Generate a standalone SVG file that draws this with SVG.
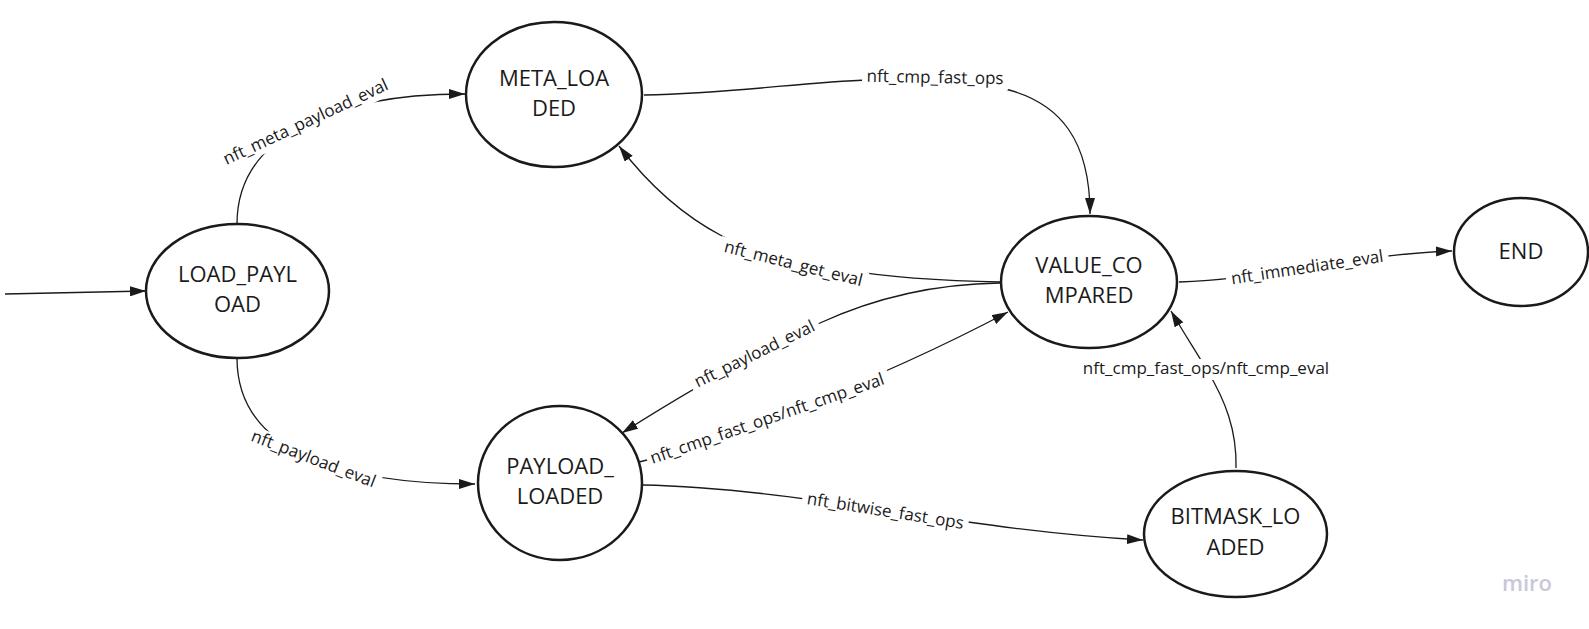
<svg xmlns="http://www.w3.org/2000/svg" width="1589" height="629" viewBox="0 0 1589 629">
<style>
.node ellipse{fill:#fff;stroke:#1a1a1a;stroke-width:2.5}
.node text{font-family:"Open Sans","Liberation Sans",sans-serif;font-size:22px;fill:#1a1a1a;text-anchor:middle}
.edge{fill:none;stroke:#1a1a1a;stroke-width:1.3;marker-end:url(#arr)}
.lbl text{font-family:"Open Sans","Liberation Sans",sans-serif;font-size:17px;fill:#1a1a1a;text-anchor:middle}
.lbl rect{fill:#fff}
.wm{font-family:"Open Sans","Liberation Sans",sans-serif;font-size:22px;font-weight:600;fill:#c8c8d8;text-anchor:middle}
</style>
<defs>
<marker id="arr" viewBox="0 0 16 10" refX="16" refY="5" markerWidth="16" markerHeight="10" markerUnits="userSpaceOnUse" orient="auto">
<path d="M0,0 L16,5 L0,10 z" fill="#1a1a1a"/>
</marker>
</defs>
<rect width="1589" height="629" fill="#fff"/>
<g id="connectors">
<path class="edge" d="M5,294 L146,291"/>
<path class="edge" d="M237,224 C237,140 325,94 465,94"/>
<path class="edge" d="M237,358 C237,460 360,484 475,484"/>
<path class="edge" d="M644,95 C740,93 800,82 870,80 C920,79 980,82 1009,90 C1060,104 1090,140 1090,214"/>
<path class="edge" d="M1001,282 C880,280 780,265 722,236 C680,214 645,180 619,146"/>
<path class="edge" d="M1000,283 C930,284 870,300 820,323 C760,350 690,390 622,433"/>
<path class="edge" d="M639,462 C700,448 870,385 1008,312"/>
<path class="edge" d="M642,485 C800,488 960,530 1143,540"/>
<path class="edge" d="M1236,468 C1237,430 1225,400 1207,370 C1195,350 1182,330 1171,311"/>
<path class="edge" d="M1179,282 C1260,280 1360,254 1452,251"/>
</g>
<g id="labels">
<g class="lbl" id="lbl-meta-payload" transform="translate(308,127) rotate(-25)"><rect x="-95" y="-15" width="190" height="21"/><text x="0" y="0">nft_meta_payload_eval</text></g>
<g class="lbl" id="lbl-payload-1" transform="translate(311.5,464) rotate(21)"><rect x="-71" y="-15" width="142" height="21"/><text x="0" y="0">nft_payload_eval</text></g>
<g class="lbl" id="lbl-cmp-fast" transform="translate(935,83) rotate(1)"><rect x="-73" y="-15" width="146" height="21"/><text x="0" y="0">nft_cmp_fast_ops</text></g>
<g class="lbl" id="lbl-meta-get" transform="translate(792,269) rotate(14)"><rect x="-76" y="-15" width="152" height="21"/><text x="0" y="0">nft_meta_get_eval</text></g>
<g class="lbl" id="lbl-payload-2" transform="translate(757,359) rotate(-26)"><rect x="-71" y="-15" width="142" height="21"/><text x="0" y="0">nft_payload_eval</text></g>
<g class="lbl" id="lbl-cmp-1" transform="translate(769,424) rotate(-19)"><rect x="-127" y="-15" width="256" height="21"/><text x="0" y="0">nft_cmp_fast_ops/nft_cmp_eval</text></g>
<g class="lbl" id="lbl-bitwise" transform="translate(884.5,516.5) rotate(9)"><rect x="-84" y="-15" width="168" height="21"/><text x="0" y="0">nft_bitwise_fast_ops</text></g>
<g class="lbl" id="lbl-cmp-2" transform="translate(1206,374)"><rect x="-130" y="-15" width="260" height="21"/><text x="0" y="0">nft_cmp_fast_ops/nft_cmp_eval</text></g>
<g class="lbl" id="lbl-immediate" transform="translate(1308,273) rotate(-8.5)"><rect x="-82" y="-15" width="164" height="21"/><text x="0" y="0">nft_immediate_eval</text></g>
</g>
<g id="node-load-payload" class="node"><ellipse cx="237.5" cy="291" rx="91.5" ry="67"/><text x="237.5" y="282">LOAD_PAYL</text><text x="237.5" y="312">OAD</text></g>
<g id="node-meta-loaded" class="node"><ellipse cx="554" cy="94.5" rx="88" ry="72.5"/><text x="554" y="86">META_LOA</text><text x="554" y="116">DED</text></g>
<g id="node-payload-loaded" class="node"><ellipse cx="560" cy="483" rx="82" ry="77"/><text x="560" y="474">PAYLOAD_</text><text x="560" y="504">LOADED</text></g>
<g id="node-value-compared" class="node"><ellipse cx="1089" cy="282" rx="88" ry="66"/><text x="1089" y="273">VALUE_CO</text><text x="1089" y="303">MPARED</text></g>
<g id="node-bitmask-loaded" class="node"><ellipse cx="1235.5" cy="534" rx="91.5" ry="63"/><text x="1235.5" y="524">BITMASK_LO</text><text x="1235.5" y="555">ADED</text></g>
<g id="node-end" class="node"><ellipse cx="1521" cy="252" rx="67" ry="54"/><text x="1521" y="259">END</text></g>
<text class="wm" x="1527" y="591">miro</text>
</svg>
